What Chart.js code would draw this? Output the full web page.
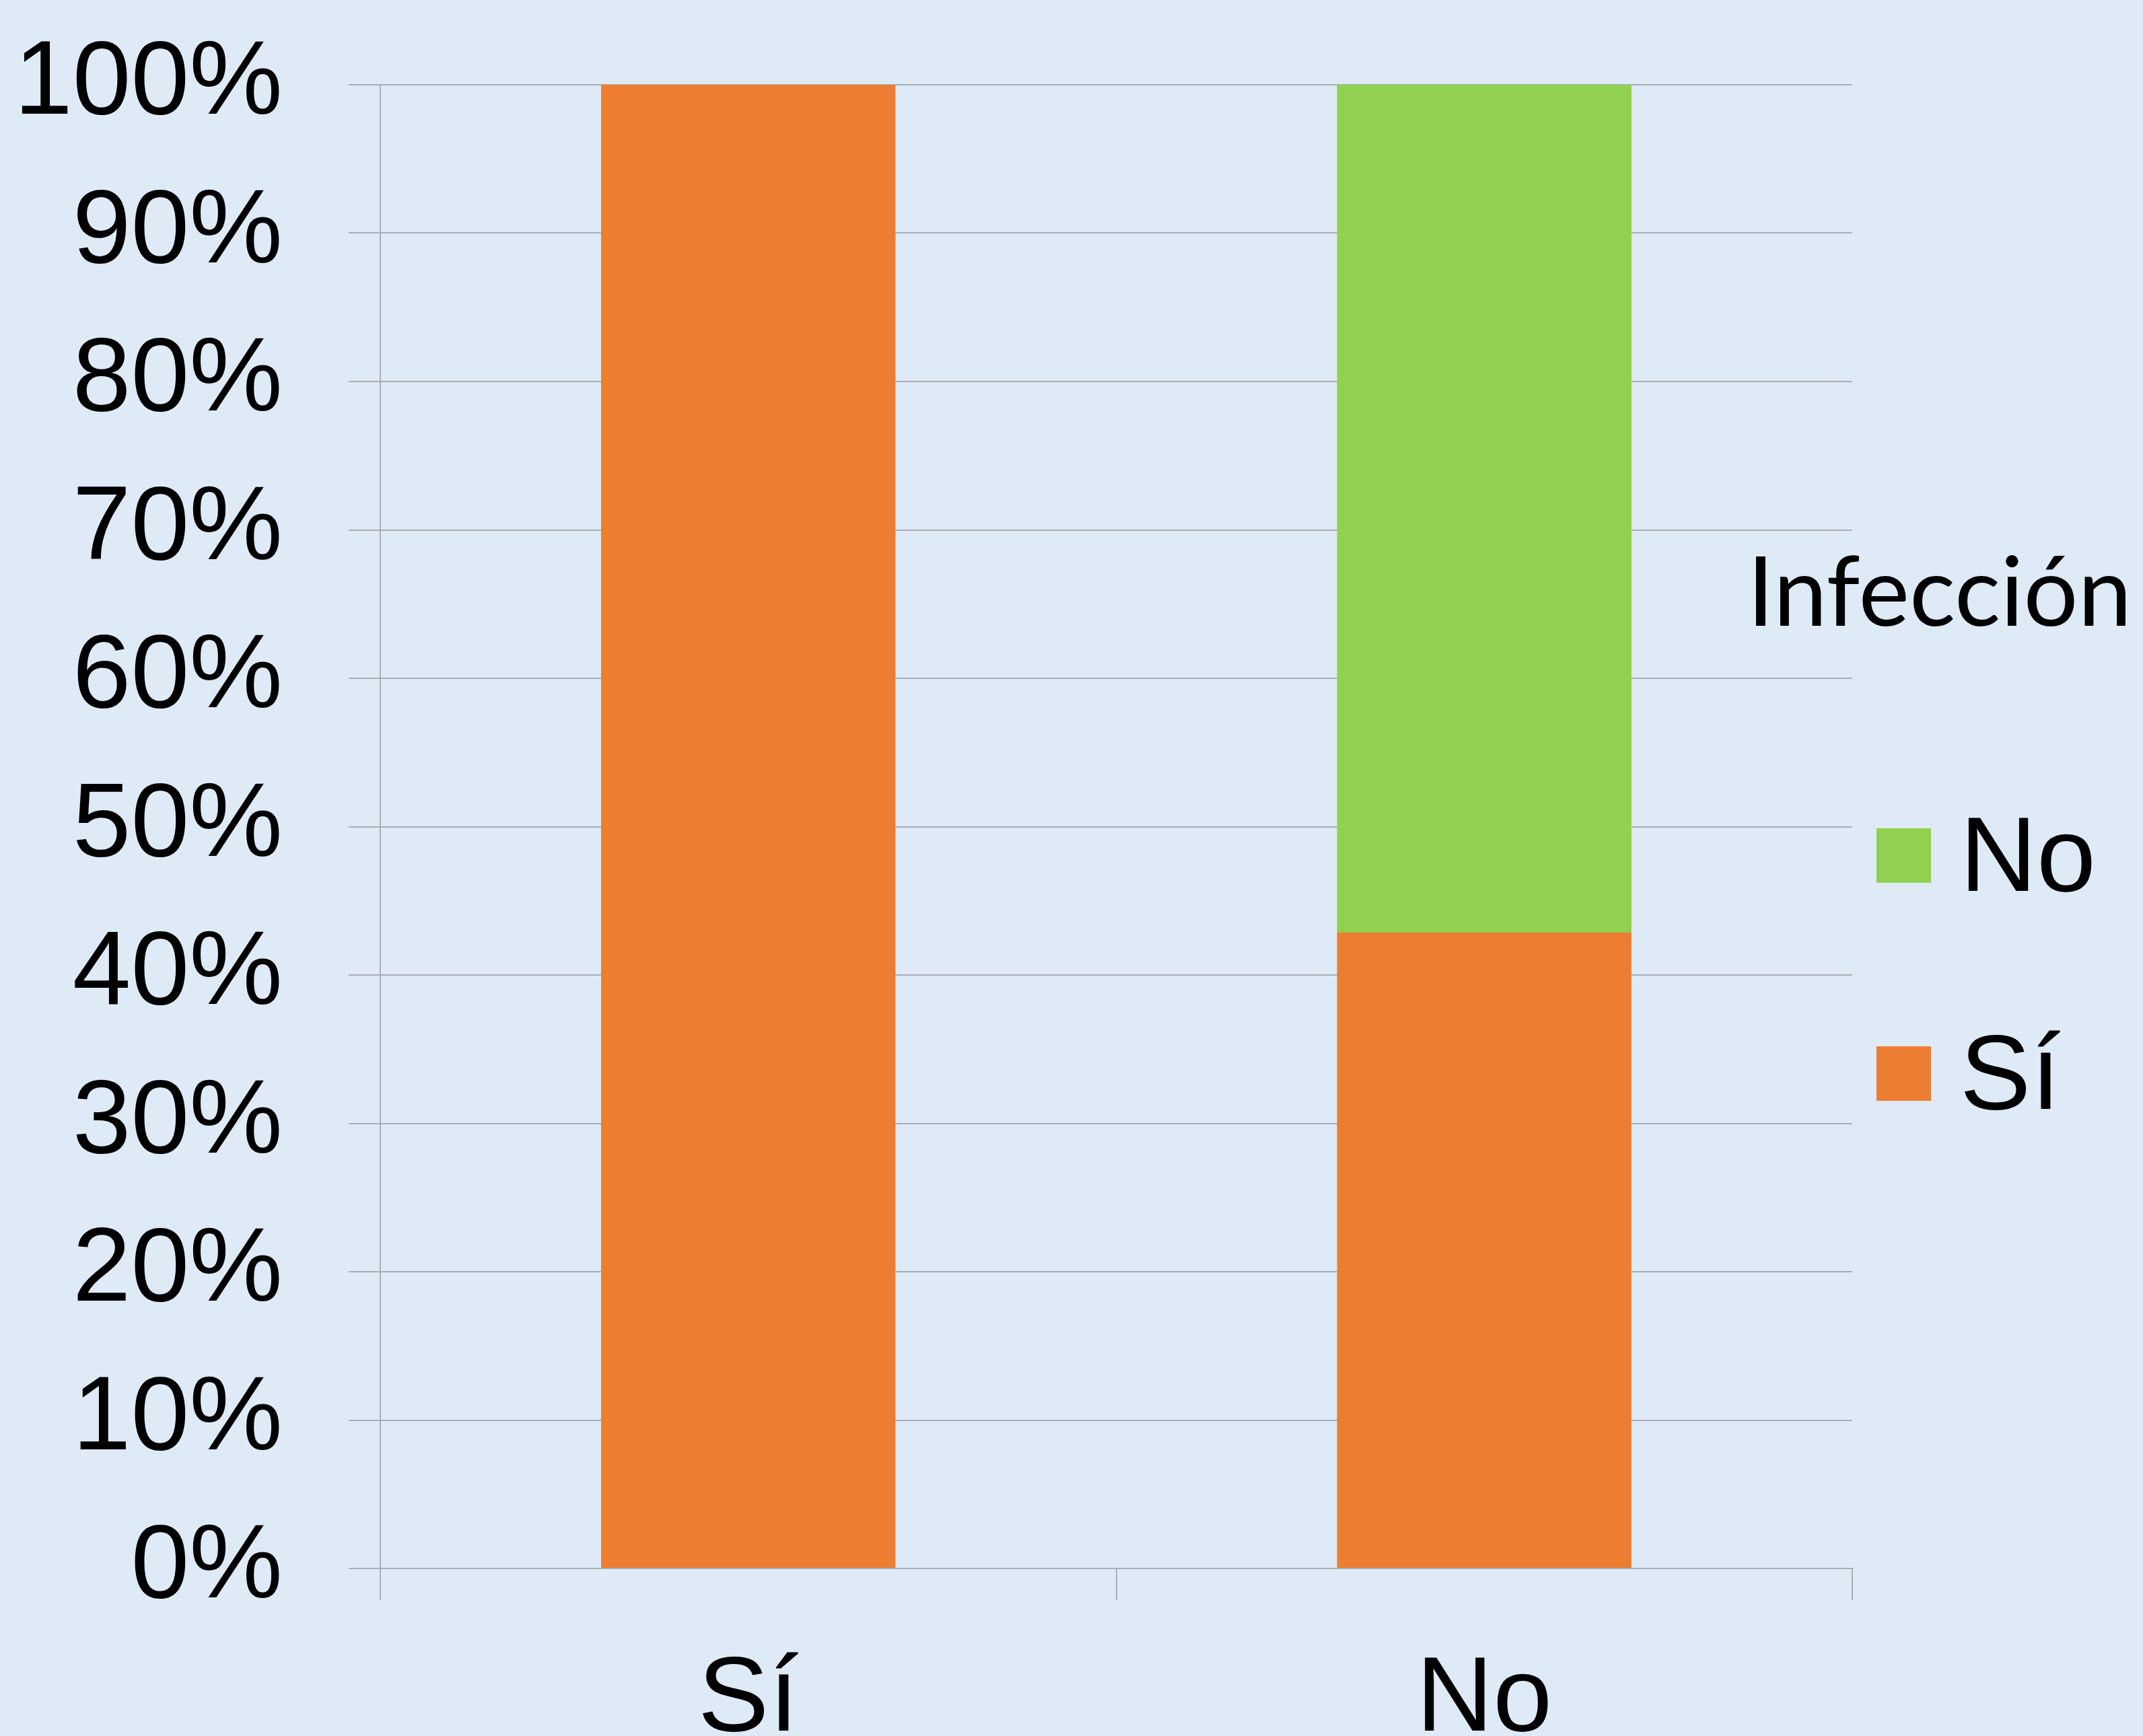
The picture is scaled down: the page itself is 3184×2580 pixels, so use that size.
<!DOCTYPE html>
<html lang="es">
<head>
    <meta charset="UTF-8">
    <title>Infección</title>
    <script src="https://cdn.jsdelivr.net/npm/chart.js@4.4.0/dist/chart.umd.min.js"></script>
    <style>
        html, body { margin: 0; padding: 0; background: #DEEAF6; overflow: hidden; }
        #wrap { width: 3184px; height: 2580px; }
    </style>
</head>
<body>
<div id="wrap"><canvas id="myChart" width="3184" height="2580"></canvas></div>
<script>
// data (percent of each category)
var categories = ['Sí', 'No'];
var infeccionSi = [100, 42.86];
var infeccionNo = [0, 57.14];
var seriesNames = ['Sí', 'No'];
var legendTitle = 'Infección';

var gridColor = '#A9AEB4';
var axisFont = '"Liberation Sans", Arial, sans-serif';

// legend on the right, drawn by hand so it can sit over the gridline ends like the original
var sideLegend = {
    id: 'sideLegend',
    afterDraw: function (chart) {
        var ctx = chart.ctx;
        var area = chart.chartArea;
        ctx.save();
        ctx.textBaseline = 'alphabetic';
        ctx.textAlign = 'left';
        ctx.fillStyle = '#000';
        ctx.font = '143px Lato, "Open Sans", sans-serif';
        ctx.fillText(legendTitle, area.right - 156, 930);

        var sets = chart.data.datasets.slice().reverse();
        for (var i = 0; i < sets.length; i++) {
            var y = 1231 + i * 324;
            ctx.fillStyle = sets[i].backgroundColor;
            ctx.fillRect(area.right + 36, y, 81, 81);
            ctx.fillStyle = '#000';
            ctx.font = '158px ' + axisFont;
            ctx.fillText(sets[i].label, area.right + 160, y + 93);
        }
        ctx.restore();
    }
};

var ctx = document.getElementById('myChart').getContext('2d');
var chart = new Chart(ctx, {
    type: 'bar',
    data: {
        labels: categories,
        datasets: [
            { label: seriesNames[0], data: infeccionSi, backgroundColor: '#ED7D31', borderWidth: 0 },
            { label: seriesNames[1], data: infeccionNo, backgroundColor: '#92D050', borderWidth: 0 }
        ]
    },
    options: {
        responsive: false,
        animation: false,
        devicePixelRatio: 1,
        categoryPercentage: 1,
        barPercentage: 0.4,
        layout: { padding: { left: 20, right: 432, top: 126, bottom: 0 } },
        plugins: {
            legend: { display: false },
            tooltip: { enabled: false }
        },
        scales: {
            x: {
                stacked: true,
                ticks: { color: '#000', font: { size: 158, family: axisFont }, padding: 56 },
                grid: { offset: true, drawOnChartArea: false, tickLength: 47, color: gridColor, lineWidth: 2 },
                border: { display: true, color: gridColor, width: 2 },
                afterFit: function (s) { s.height = 249; }
            },
            y: {
                stacked: true,
                min: 0,
                max: 100,
                ticks: {
                    stepSize: 10,
                    color: '#000',
                    padding: 98,
                    font: { size: 156, family: axisFont },
                    callback: function (v) { return v + '%'; }
                },
                grid: { color: gridColor, lineWidth: 2, tickLength: 47 },
                border: { display: true, color: gridColor, width: 2 },
                afterFit: function (s) {
                    s.width = 545;
                    s.paddingTop = 0;
                    s.paddingBottom = 0;
                }
            }
        }
    },
    plugins: [sideLegend]
});
</script>
</body>
</html>
